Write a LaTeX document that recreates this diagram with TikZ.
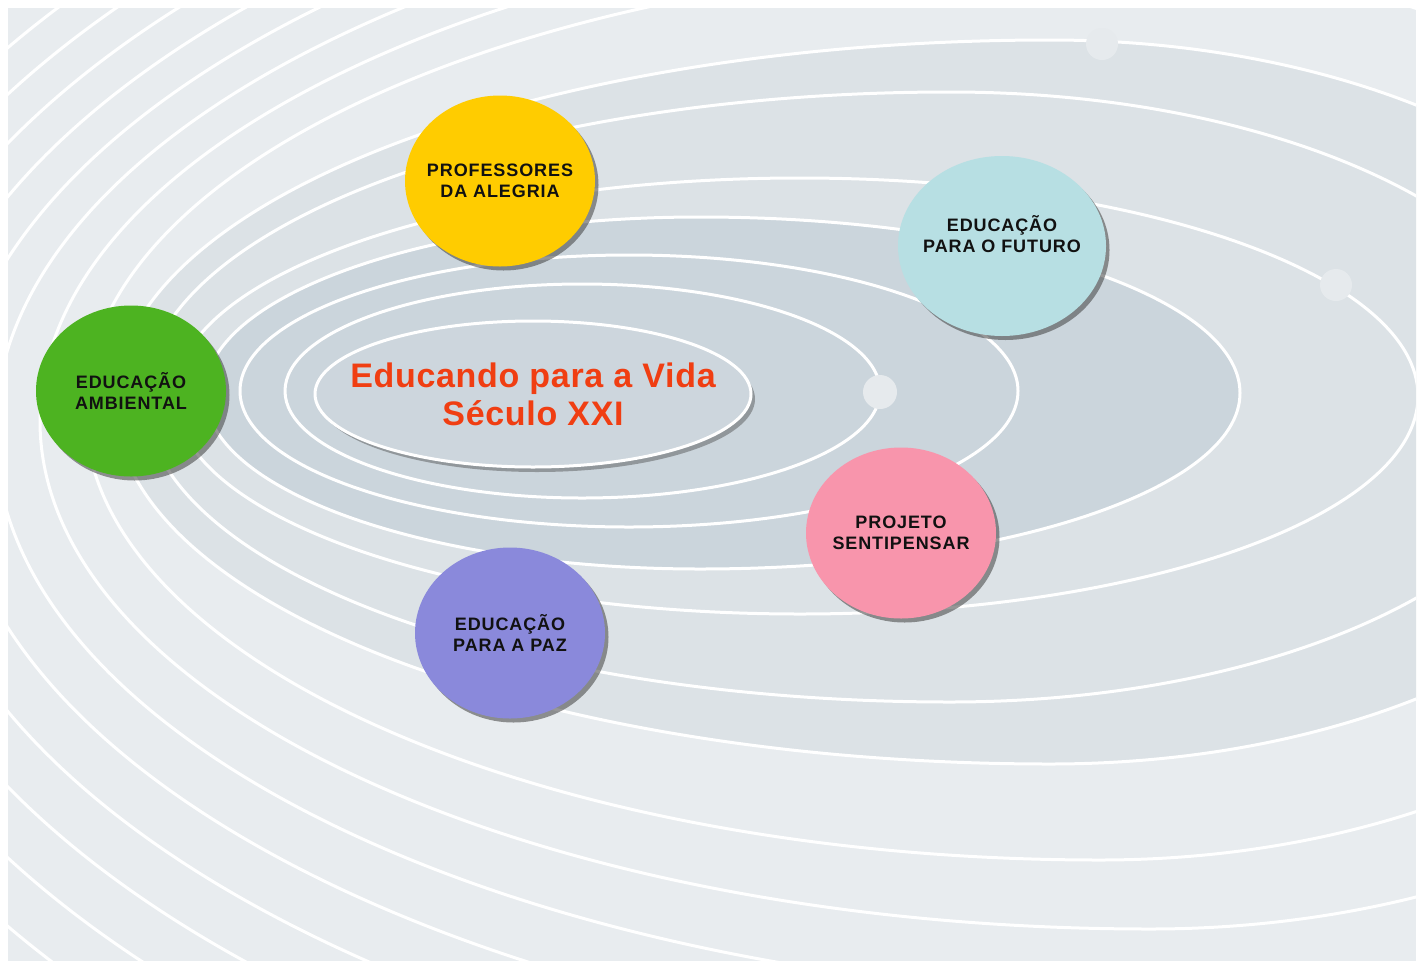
\documentclass[tikz,border=0pt]{standalone}
\usepackage{fontspec}
\setmainfont{Liberation Sans}
\newfontfamily\lblfont{Liberation Sans}[LetterSpace=5]
\newfontfamily\ttlfont{Liberation Sans}[LetterSpace=2]
\usetikzlibrary{shapes.geometric,shadows}
\definecolor{bglight}{HTML}{E8ECEF}
\definecolor{bgmid}{HTML}{DCE2E6}
\definecolor{bgdark}{HTML}{CBD5DC}
\definecolor{ctrfill}{HTML}{CDD6DD}
\definecolor{bubfill}{HTML}{E6EAED}
\definecolor{cyellow}{HTML}{FFCC00}
\definecolor{cblue}{HTML}{B7DFE3}
\definecolor{cgreen}{HTML}{4DB321}
\definecolor{cpink}{HTML}{F895AC}
\definecolor{cpurple}{HTML}{8A89DB}
\definecolor{ttlred}{HTML}{F03E12}
\definecolor{lbltext}{HTML}{111111}
% egg-shaped ring: centre x, centre y, left half-width, right half-width, half-height
\newcommand\eggfill[6]{\fill[#6] ({#1},{#2-#5}) arc[start angle=90,end angle=270,x radius=#3pt,y radius=#5pt] arc[start angle=-90,end angle=90,x radius=#4pt,y radius=#5pt] -- cycle;}
\newcommand\eggring[5]{\draw[ringline] ({#1},{#2-#5}) arc[start angle=90,end angle=270,x radius=#3pt,y radius=#5pt] arc[start angle=-90,end angle=90,x radius=#4pt,y radius=#5pt] -- cycle;}
\begin{document}
\begin{tikzpicture}[x=1pt,y=-1pt,
  ringline/.style={white,line width=3pt},
  bubble/.style={circle,fill=bubfill,inner sep=0pt},
  orb/.style={ellipse,inner ysep=0pt,inner xsep=-14pt,minimum width=190pt,minimum height=171pt,
    font=\lblfont\bfseries\fontsize{18}{21}\selectfont,align=center,text=lbltext,
    drop shadow={shadow xshift=3.5pt,shadow yshift=-4pt,opacity=0.55,fill=black!75}},
  ctrstyle/.style={ellipse,inner ysep=0pt,inner xsep=-40pt,minimum width=436pt,minimum height=146pt,
    fill=ctrfill,draw=white,line width=3pt,align=center,text=ttlred,
    font=\ttlfont\bfseries\fontsize{34}{38}\selectfont,
    drop shadow={shadow xshift=4pt,shadow yshift=-5pt,opacity=0.45,fill=black!70}}]
\useasboundingbox (0,0) rectangle (1421,967);
\fill[white] (0,0) rectangle (1421,967);
\begin{scope}
  \clip (8,8) rectangle (1416,961);
  \fill[bglight] (8,8) rectangle (1416,961);
  \eggfill{1050}{402}{935}{640}{362}{bgmid}
  \eggfill{700}{393}{495}{540}{176}{bgdark}
  \eggring{582}{391}{297}{298}{107}
  \eggring{629}{391}{389}{389}{136}
  \eggring{700}{393}{495}{540}{176}
  \eggring{800}{396}{625}{618}{218}
  \eggring{950}{397}{805}{620}{305}
  \eggring{1050}{402}{935}{640}{362}
  \eggring{1100}{410}{1015}{700}{450}
  \eggring{1150}{421}{1110}{760}{508}
  \eggring{1200}{432}{1205}{820}{566}
  \eggring{1250}{443}{1300}{880}{624}
  \eggring{1300}{454}{1395}{940}{682}
  \eggring{1350}{465}{1490}{1000}{740}
  \eggring{1400}{476}{1585}{1060}{798}
  \eggring{1450}{487}{1680}{1120}{856}
  \eggring{1500}{498}{1775}{1180}{914}
  \eggring{1550}{509}{1870}{1240}{972}
  \node[bubble,minimum size=34pt] (b1) at (880,392) {};
  \node[bubble,minimum size=32pt] (b2) at (1336,285) {};
  \node[bubble,minimum size=32pt] (b3) at (1102,44) {};
\end{scope}
\node[ctrstyle] (ctr) at (533,394) {Educando para a Vida\\Século XXI};
\node[orb,fill=cyellow] (prof) at (500,181) {PROFESSORES\\DA ALEGRIA};
\node[orb,fill=cblue,minimum width=208pt,minimum height=180pt,text depth=24pt] (fut) at (1002,246) {EDUCAÇÃO\\PARA O FUTURO};
\node[orb,fill=cgreen] (amb) at (131,391) {EDUCAÇÃO\\AMBIENTAL};
\node[orb,fill=cpink] (sent) at (901,533) {PROJETO\\SENTIPENSAR};
\node[orb,fill=cpurple] (paz) at (510,633) {EDUCAÇÃO\\PARA A PAZ};
\end{tikzpicture}
\end{document}
